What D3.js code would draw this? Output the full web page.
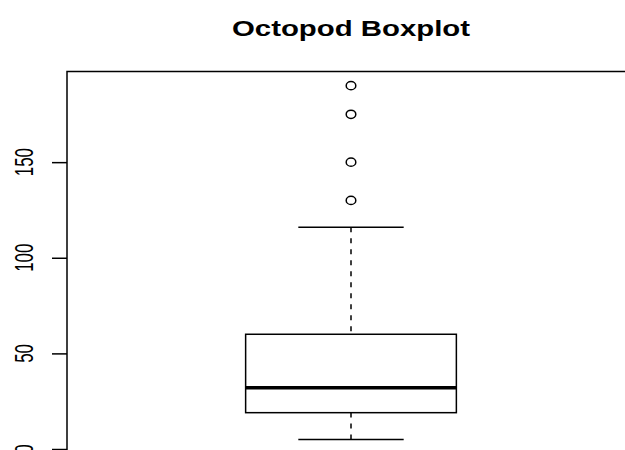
<!DOCTYPE html>
<html>
<head>
<meta charset="utf-8">
<script src="https://cdn.jsdelivr.net/npm/d3@7"></script>
<style>
  body { margin: 0; background: #fff; }
  svg { display: block; }
  text { font-family: "Liberation Sans", Arial, Helvetica, sans-serif; fill: #000; }
</style>
</head>
<body>
<svg width="625" height="450"></svg>
<script>
const TITLE = 'Octopod Boxplot';
const yTicks = [0, 50, 100, 150];
// five-number summary: lower whisker, q1, median, q3, upper whisker
const stats = [5, 19, 32, 60, 116];
const outliers = [130, 150, 175, 190];

const svg = d3.select('svg');

// plot region runs past the right and bottom edges (cropped)
const plotLeft = 67, plotRight = 635, plotTop = 71.5, plotBottom = 453.6;
const lo = stats[0], hi = d3.max(outliers);
const pad = (hi - lo) * 0.04;

const y = d3.scaleLinear().domain([lo - pad, hi + pad]).range([plotBottom, plotTop]);
const x = d3.scaleLinear().domain([0.5, 1.5]).range([plotLeft, plotRight]);

const boxHalf = 0.1855;
const capHalf = boxHalf / 2;
const LW = 1.5;

// frame
svg.append('rect')
  .attr('x', plotLeft).attr('y', plotTop)
  .attr('width', plotRight - plotLeft).attr('height', plotBottom - plotTop)
  .attr('fill', 'none').attr('stroke', '#000').attr('stroke-width', LW);

// y axis
const ax = svg.append('g').attr('transform', `translate(${plotLeft},0)`)
  .call(d3.axisLeft(y).tickValues(yTicks).tickSize(15).tickSizeOuter(0).tickFormat(d3.format('d')));
ax.select('.domain').remove();
ax.selectAll('line').attr('stroke', '#000').attr('stroke-width', LW);
ax.selectAll('text').remove();
svg.append('g').selectAll('text')
  .data(yTicks)
  .join('text')
    .attr('transform', d => `translate(33,${y(d)}) rotate(-90)`)
    .attr('text-anchor', 'middle')
    .attr('font-size', 25)
    .attr('textLength', d => String(d).length * 9.4)
    .attr('lengthAdjust', 'spacingAndGlyphs')
    .text(d => d);

const g = svg.append('g');
const cx = x(1);

// whiskers
g.selectAll('line.whisk')
  .data([[stats[0], stats[1]], [stats[4], stats[3]]])
  .join('line')
    .attr('class', 'whisk')
    .attr('x1', cx).attr('x2', cx)
    .attr('y1', d => y(d[0])).attr('y2', d => y(d[1]))
    .attr('stroke', '#000').attr('stroke-width', LW)
    .attr('stroke-dasharray', '5,6');

// staples
g.selectAll('line.cap')
  .data([stats[0], stats[4]])
  .join('line')
    .attr('class', 'cap')
    .attr('x1', x(1 - capHalf)).attr('x2', x(1 + capHalf))
    .attr('y1', d => y(d)).attr('y2', d => y(d))
    .attr('stroke', '#000').attr('stroke-width', LW);

// box
g.append('rect')
  .attr('x', x(1 - boxHalf)).attr('y', y(stats[3]))
  .attr('width', x(1 + boxHalf) - x(1 - boxHalf))
  .attr('height', y(stats[1]) - y(stats[3]))
  .attr('fill', 'none').attr('stroke', '#000').attr('stroke-width', LW);

// median
g.append('line')
  .attr('x1', x(1 - boxHalf)).attr('x2', x(1 + boxHalf))
  .attr('y1', y(stats[2])).attr('y2', y(stats[2]))
  .attr('stroke', '#000').attr('stroke-width', 3.4);

// outliers (slightly wide, as in the stretched original)
g.selectAll('ellipse')
  .data(outliers)
  .join('ellipse')
    .attr('cx', cx).attr('cy', d => y(d))
    .attr('rx', 4.8).attr('ry', 4.1)
    .attr('fill', 'none').attr('stroke', '#000').attr('stroke-width', LW);

// title
svg.append('text')
  .attr('x', cx).attr('y', 36)
  .attr('text-anchor', 'middle')
  .attr('font-size', 21.5)
  .attr('font-weight', 'bold')
  .attr('textLength', 238)
  .attr('lengthAdjust', 'spacingAndGlyphs')
  .text(TITLE);
</script>
</body>
</html>
